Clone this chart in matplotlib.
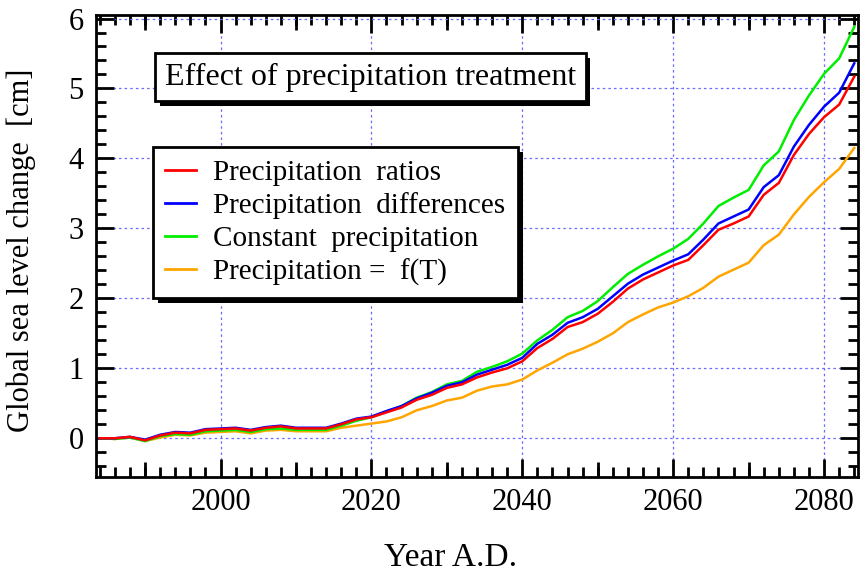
import numpy as np
import matplotlib
matplotlib.use('Agg')
import matplotlib.pyplot as plt
import matplotlib.patheffects as pe
from matplotlib.ticker import MultipleLocator

plt.rcParams['font.family'] = ['Liberation Serif', 'DejaVu Serif']

years = list(range(1984, 2085, 2))

ratios = [0.00, 0.00, 0.02, -0.03, 0.04, 0.08, 0.07, 0.12, 0.13, 0.14,
          0.11, 0.15, 0.17, 0.14, 0.14, 0.14, 0.20, 0.27, 0.30, 0.37,
          0.44, 0.55, 0.62, 0.72, 0.77, 0.87, 0.94, 1.00, 1.10, 1.29,
          1.42, 1.59, 1.66, 1.78, 1.95, 2.14, 2.27, 2.37, 2.47, 2.55,
          2.76, 2.98, 3.07, 3.17, 3.48, 3.65, 4.05, 4.35, 4.59, 4.77, 5.17]

differences = [0.00, 0.00, 0.02, -0.02, 0.05, 0.09, 0.08, 0.13, 0.14, 0.15,
               0.12, 0.16, 0.18, 0.15, 0.15, 0.15, 0.21, 0.28, 0.31, 0.39,
               0.46, 0.57, 0.65, 0.75, 0.80, 0.91, 0.98, 1.05, 1.15, 1.35,
               1.48, 1.65, 1.73, 1.85, 2.03, 2.21, 2.34, 2.44, 2.54, 2.63,
               2.84, 3.07, 3.17, 3.27, 3.59, 3.76, 4.17, 4.48, 4.74, 4.94, 5.36]

constant = [0.00, -0.01, 0.01, -0.04, 0.03, 0.06, 0.05, 0.10, 0.11, 0.12,
            0.09, 0.13, 0.14, 0.12, 0.12, 0.12, 0.18, 0.25, 0.30, 0.38,
            0.46, 0.58, 0.66, 0.77, 0.82, 0.95, 1.02, 1.10, 1.21, 1.40,
            1.55, 1.73, 1.82, 1.96, 2.16, 2.35, 2.48, 2.60, 2.71, 2.85,
            3.07, 3.32, 3.44, 3.55, 3.90, 4.10, 4.55, 4.90, 5.21, 5.43, 5.88]

f_of_t = [0.00, -0.01, 0.01, -0.04, 0.01, 0.05, 0.04, 0.08, 0.09, 0.10,
          0.07, 0.11, 0.12, 0.10, 0.10, 0.10, 0.15, 0.18, 0.21, 0.24,
          0.30, 0.40, 0.46, 0.54, 0.58, 0.68, 0.74, 0.77, 0.84, 0.97,
          1.08, 1.20, 1.28, 1.38, 1.50, 1.66, 1.77, 1.87, 1.94, 2.03,
          2.15, 2.31, 2.41, 2.51, 2.76, 2.91, 3.20, 3.45, 3.66, 3.85, 4.15]

labels = ['Precipitation  ratios', 'Precipitation  differences',
          'Constant  precipitation', 'Precipitation =  f(T)']
colors = ['#ff0000', '#0000ff', '#00ee00', '#ffa500']


def main():
    fig = plt.figure(figsize=(8.62, 5.73), dpi=100)
    ax = fig.add_axes([0.1114, 0.168, 0.884, 0.8058])

    # orange first so the others sit on top of it
    order = [3, 2, 1, 0]
    series = [ratios, differences, constant, f_of_t]
    lines = {}
    for i in order:
        ln, = ax.plot(years, series[i], color=colors[i], lw=1.8, label=labels[i])
        lines[i] = ln

    ax.set_xlim(1983.5, 2084.5)
    ax.set_ylim(-0.55, 6.05)

    ax.xaxis.set_major_locator(MultipleLocator(20))
    ax.xaxis.set_minor_locator(MultipleLocator(2))
    ax.yaxis.set_major_locator(MultipleLocator(1))
    ax.yaxis.set_minor_locator(MultipleLocator(0.2))
    ax.set_yticks([0, 1, 2, 3, 4, 5, 6])

    ax.tick_params(which='both', direction='in', top=True, right=True,
                   width=2, labelsize=22, color='black')
    ax.tick_params(which='major', length=13)
    ax.tick_params(which='minor', length=7.5)
    ax.tick_params(axis='x', pad=8)
    ax.tick_params(axis='y', pad=9)
    for s in ax.spines.values():
        s.set_linewidth(2)

    # medium ticks every 10 years
    for side in ['bottom', 'top']:
        sec = ax.secondary_xaxis(side)
        sec.set_xticks([1990, 2010, 2030, 2050, 2070])
        sec.tick_params(direction='in', length=11, width=2, labelbottom=False,
                        labeltop=False)
        for s in sec.spines.values():
            s.set_visible(False)

    ax.grid(True, which='major', color='#6a6aff', lw=0.9, ls=(0, (2, 2.5)))

    ax.set_xlabel('Year A.D.', fontsize=24)
    ax.xaxis.set_label_coords(0.465, -0.142)
    ax.set_ylabel('Global sea level change  [cm]', fontsize=22)
    ax.yaxis.set_label_coords(-0.079, 0.49)

    shadow = [pe.SimplePatchShadow(offset=(3.5, -3.5), shadow_rgbFace='black', alpha=1.0),
              pe.Normal()]

    t = ax.text(0.36, 0.865, 'Effect of precipitation treatment', transform=ax.transAxes,
                ha='center', va='center', fontsize=23,
                bbox=dict(boxstyle='square,pad=0.3', fc='white', ec='black', lw=2))
    t.get_bbox_patch().set_path_effects(shadow)

    handles = [lines[i] for i in range(4)]
    leg = ax.legend(handles, labels, loc='upper left', bbox_to_anchor=(0.0748, 0.714),
                    borderaxespad=0, fontsize=21, fancybox=False, framealpha=1,
                    edgecolor='black', handlelength=1.05, handletextpad=0.6,
                    labelspacing=0.22, borderpad=0.42)
    leg.get_frame().set_linewidth(2)
    leg.get_frame().set_path_effects(shadow)
    for h in leg.get_lines():
        h.set_linewidth(2)

    fig.savefig('out.png', dpi=100)


if __name__ == "__main__":
    main()
